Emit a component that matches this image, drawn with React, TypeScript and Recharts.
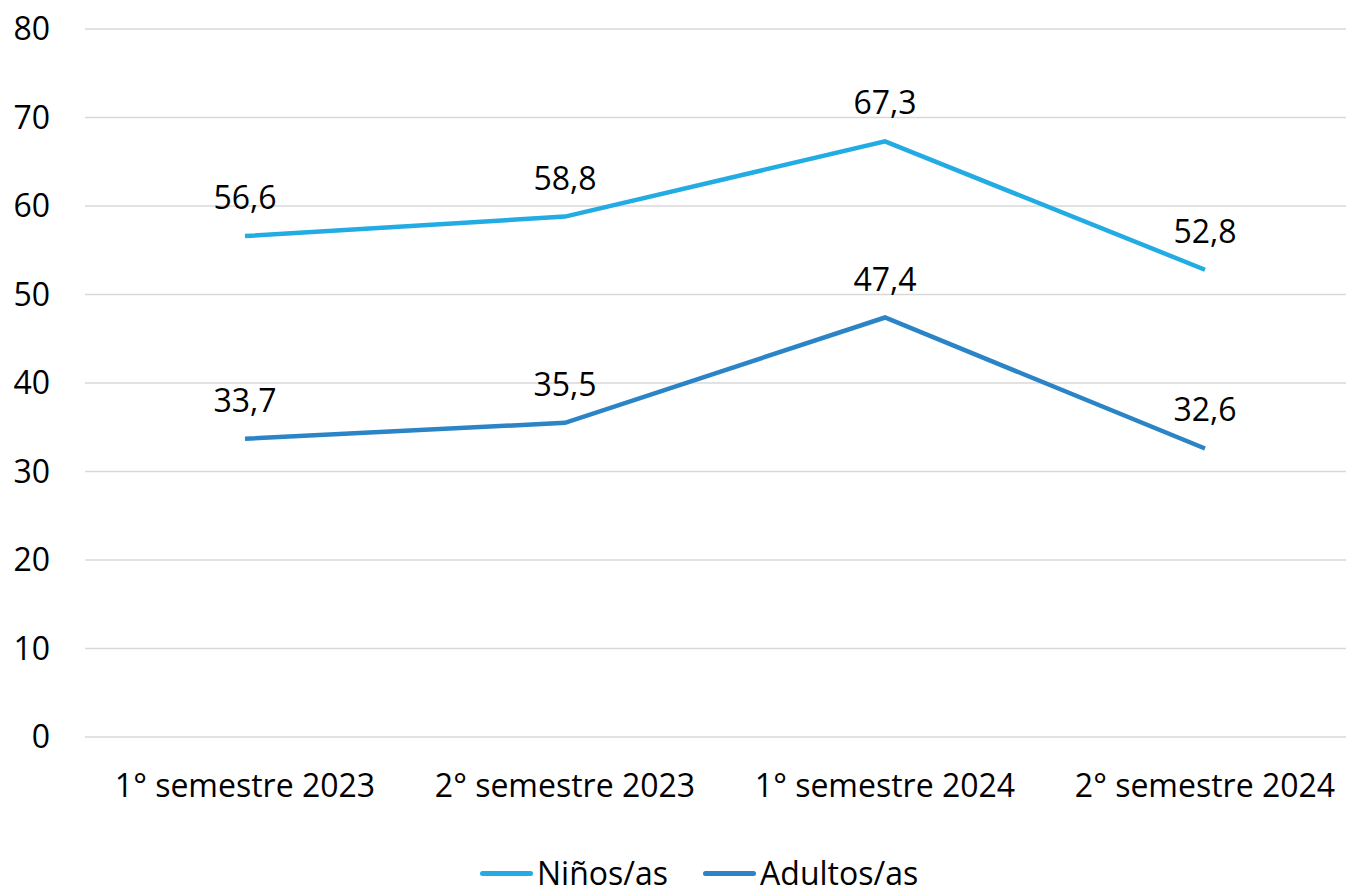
import React from 'react';
import { LineChart, Line, XAxis, YAxis, CartesianGrid, Legend, LabelList } from 'recharts';

const categories = ['1° semestre 2023', '2° semestre 2023', '1° semestre 2024', '2° semestre 2024'];
const ninos = [56.6, 58.8, 67.3, 52.8];
const adultos = [33.7, 35.5, 47.4, 32.6];
const yTicks = [0, 10, 20, 30, 40, 50, 60, 70, 80];
const seriesOrder = ['ninos', 'adultos'];

const data = categories.map((c, i) => ({ name: c, ninos: ninos[i], adultos: adultos[i] }));

const FONT = '"Open Sans", sans-serif';
const C_NINOS = '#22ACE3';
const C_ADULTOS = '#2A84C6';

const fmt = (v: any) => String(v).replace('.', ',');

const renderLegend = (props: any) => {
  const items = [...(props.payload || [])].sort(
    (a: any, b: any) => seriesOrder.indexOf(a.dataKey) - seriesOrder.indexOf(b.dataKey)
  );
  return (
    <div style={{ height: 0, position: 'relative' }}>
      <div style={{ position: 'absolute', left: 480, top: 856, display: 'flex', alignItems: 'center', whiteSpace: 'nowrap' }}>
        {items.map((it: any, i: number) => (
          <div key={i} style={{ display: 'flex', alignItems: 'center', marginRight: i === 0 ? 35 : 0 }}>
            <div style={{ width: 53, height: 5, borderRadius: 3, background: it.color, marginRight: 4 }} />
            <span style={{ fontFamily: FONT, fontSize: 32, color: '#000', lineHeight: '34px' }}>{it.value}</span>
          </div>
        ))}
      </div>
    </div>
  );
};

export default function App() {
  return (
    <div style={{ position: 'fixed', left: 0, top: 0, width: 1346, height: 896, overflow: 'hidden', background: '#fff' }}>
      <LineChart width={1365} height={896} data={data} margin={{ top: 29, right: 0, bottom: 0, left: 0 }}>
        <CartesianGrid vertical={false} stroke="#D9D9D9" strokeWidth={1.5} />
        <XAxis
          dataKey="name"
          scale="band"
          height={159}
          axisLine={false}
          tickLine={false}
          tickSize={0}
          tickMargin={37}
          interval={0}
          tick={{ fontFamily: FONT, fontSize: 32, fill: '#000' }}
        />
        <YAxis
          width={85}
          domain={[0, 80]}
          ticks={yTicks}
          axisLine={false}
          tickLine={false}
          tickSize={0}
          tickMargin={35}
          tick={{ fontFamily: FONT, fontSize: 32, fill: '#000' }}
        />
        <Legend verticalAlign="bottom" content={renderLegend} wrapperStyle={{ left: 0, bottom: 'auto', top: 0, width: 1365, height: 0 }} />
        <Line
          type="linear"
          dataKey="ninos"
          name="Niños/as"
          stroke={C_NINOS}
          strokeWidth={4.5}
          dot={false}
          isAnimationActive={false}
        >
          <LabelList dataKey="ninos" position="top" offset={27} formatter={fmt} style={{ fontFamily: FONT, fontSize: 32, fill: '#000' }} />
        </Line>
        <Line
          type="linear"
          dataKey="adultos"
          name="Adultos/as"
          stroke={C_ADULTOS}
          strokeWidth={4.5}
          dot={false}
          isAnimationActive={false}
        >
          <LabelList dataKey="adultos" position="top" offset={27} formatter={fmt} style={{ fontFamily: FONT, fontSize: 32, fill: '#000' }} />
        </Line>
      </LineChart>
    </div>
  );
}
